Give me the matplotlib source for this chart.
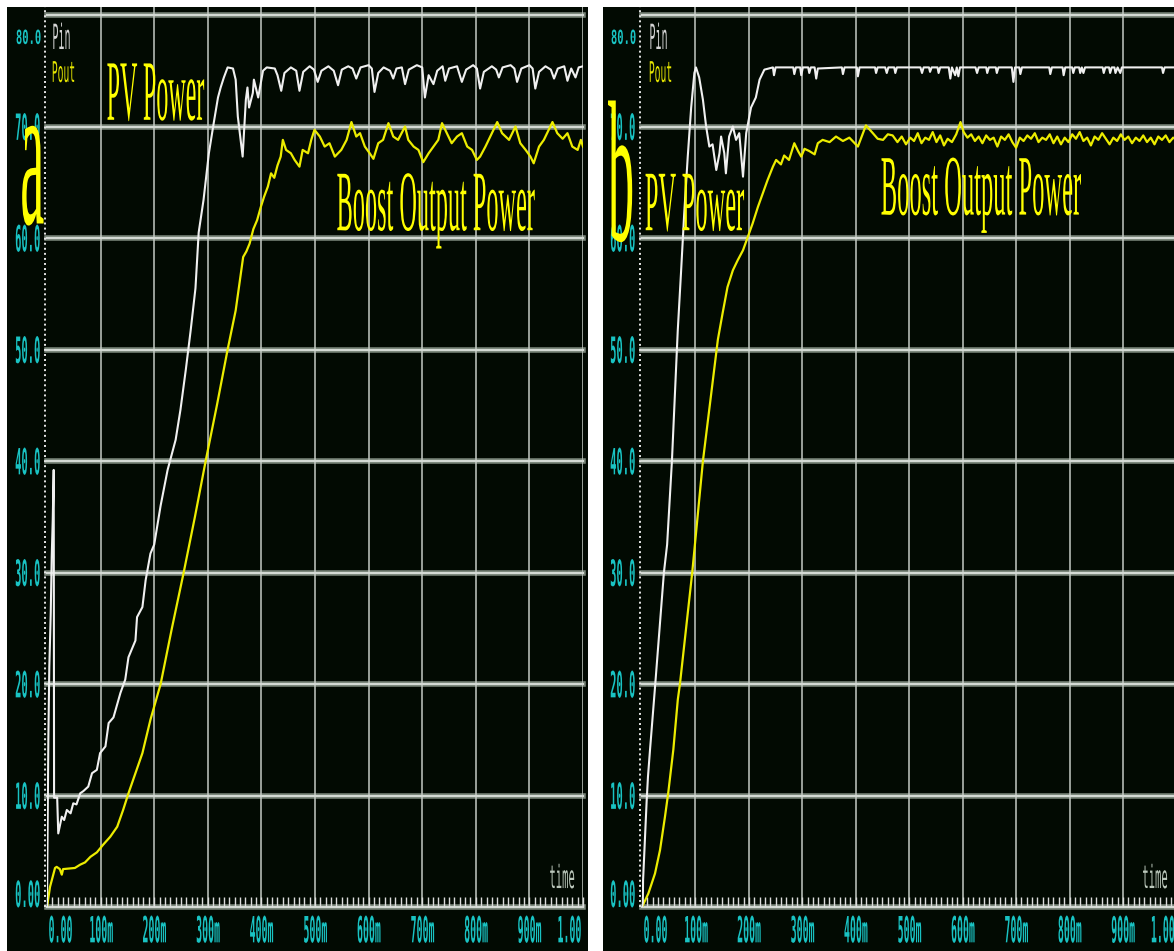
import matplotlib
matplotlib.use("Agg")
import matplotlib.pyplot as plt
from matplotlib.patheffects import AbstractPathEffect
from matplotlib.transforms import Affine2D, Bbox, blended_transform_factory
from matplotlib.patches import Rectangle
from matplotlib.ticker import MultipleLocator

# ---------------- data ----------------
x_ticks = [0.0, 0.1, 0.2, 0.3, 0.4, 0.5, 0.6, 0.7, 0.8, 0.9, 1.0]
x_labels = ["0.00", "100m", "200m", "300m", "400m", "500m", "600m", "700m", "800m", "900m", "1.00"]
y_ticks = [0, 10, 20, 30, 40, 50, 60, 70, 80]
y_labels = ["0.00", "10.0", "20.0", "30.0", "40.0", "50.0", "60.0", "70.0", "80.0"]

# Panel a : PV power (Pin, white)
pin_a_t = [0.0, 0.001, 0.0025, 0.0043, 0.007, 0.0088, 0.0107, 0.0125, 0.0132, 0.019, 0.021,
           0.0276, 0.032, 0.037, 0.044, 0.049, 0.055, 0.062, 0.068, 0.077, 0.084, 0.093, 0.099,
           0.109, 0.115, 0.124, 0.137, 0.146, 0.152, 0.165, 0.168, 0.178, 0.184, 0.193, 0.2,
           0.212, 0.225, 0.24, 0.249, 0.259, 0.268, 0.277, 0.283, 0.292, 0.302, 0.311, 0.319,
           0.324, 0.33, 0.337, 0.347, 0.352, 0.356, 0.365, 0.371, 0.374, 0.377, 0.384, 0.386,
           0.394, 0.403,
           0.41, 0.425, 0.43, 0.437, 0.443, 0.455, 0.465, 0.471, 0.478, 0.49, 0.498, 0.505,
           0.512, 0.525, 0.535, 0.543, 0.55, 0.562, 0.57, 0.577, 0.585, 0.6, 0.606, 0.611,
           0.618, 0.628, 0.64, 0.646, 0.652, 0.662, 0.668, 0.675, 0.69, 0.7, 0.705, 0.712,
           0.721, 0.728, 0.738, 0.743, 0.75, 0.765, 0.774, 0.782, 0.795, 0.802, 0.808, 0.815,
           0.83, 0.838, 0.843, 0.85, 0.865, 0.872, 0.877, 0.885, 0.9, 0.906, 0.911, 0.918,
           0.93, 0.94, 0.946, 0.953, 0.965, 0.971, 0.978, 0.986, 0.992, 1.0]
pin_a_v = [0.0, 6.0, 15.0, 21.5, 26.4, 31.4, 34.7, 39.2, 9.8, 9.8, 6.6,
           8.1, 7.8, 8.7, 8.4, 9.3, 9.2, 10.2, 10.4, 10.8, 12.0, 12.3, 13.8,
           14.4, 16.5, 17.0, 19.2, 20.4, 22.4, 23.9, 26.0, 26.9, 29.3, 31.7, 32.5,
           36.0, 39.2, 41.9, 44.6, 48.2, 51.7, 55.5, 60.5, 63.4, 67.6, 70.3, 72.6,
           73.5, 74.4, 75.3, 75.2, 74.2, 70.9, 67.3, 72.4, 73.5, 71.7, 73.0, 74.2,
           72.6, 75.0,
           75.3, 75.2, 74.6, 73.2, 74.8, 75.3, 75.0, 73.2, 74.9, 75.4, 75.1, 74.0,
           75.0, 75.4, 75.0, 73.7, 75.1, 75.4, 75.2, 74.3, 75.3, 75.5, 75.2, 73.1,
           74.8, 75.3, 75.0, 74.3, 75.2, 75.3, 73.8, 75.1, 75.5, 75.3, 72.6, 74.6,
           73.8, 75.0, 75.4, 74.1, 75.2, 75.4, 74.0, 75.1, 75.5, 75.2, 73.4, 74.9,
           75.4, 75.1, 74.4, 75.3, 75.5, 75.2, 74.0, 75.2, 75.5, 75.2, 73.4, 74.9,
           75.4, 75.1, 74.3, 75.2, 75.4, 74.1, 75.2, 74.4, 75.3, 75.4]

# Panel a : boost output power (Pout, yellow)
pout_a_t = [0.0, 0.0056, 0.015, 0.018, 0.024, 0.0276, 0.03, 0.052, 0.062, 0.071, 0.081, 0.093,
            0.105, 0.118, 0.131, 0.142, 0.152, 0.165, 0.178, 0.193, 0.212, 0.233, 0.255, 0.276,
            0.296, 0.317, 0.337, 0.352, 0.366, 0.372, 0.378, 0.385, 0.392, 0.399, 0.405, 0.412,
            0.418, 0.424, 0.43, 0.436, 0.44, 0.446, 0.455, 0.462, 0.471, 0.477, 0.487, 0.493,
            0.499, 0.509, 0.518, 0.527, 0.537, 0.549, 0.559, 0.568, 0.577, 0.584, 0.593, 0.602,
            0.609, 0.618, 0.627, 0.637, 0.646, 0.655, 0.668, 0.674, 0.684, 0.693, 0.702, 0.712,
            0.721, 0.73, 0.737, 0.746, 0.755, 0.765, 0.774, 0.784, 0.793, 0.802, 0.808, 0.818,
            0.827, 0.84, 0.849, 0.862, 0.874, 0.883, 0.893, 0.902, 0.908, 0.918, 0.927, 0.943,
            0.952, 0.962, 0.971, 0.98, 0.99, 0.996, 1.0]
pout_a_v = [0.0, 1.8, 3.5, 3.6, 3.4, 2.9, 3.4, 3.5, 3.8, 4.0, 4.5, 4.9,
            5.6, 6.3, 7.2, 8.7, 10.2, 12.0, 13.8, 16.8, 20.0, 25.0, 30.0, 35.0,
            40.0, 45.0, 50.0, 53.5, 58.3, 58.8, 59.5, 60.8, 61.6, 62.8, 63.7, 64.6,
            65.8, 65.4, 66.5, 67.3, 68.8, 67.9, 67.6, 67.0, 66.4, 67.9, 67.6, 68.8,
            69.7, 69.1, 68.2, 68.5, 67.3, 67.9, 68.8, 70.4, 69.1, 69.4, 68.2, 67.6,
            67.1, 68.5, 68.8, 70.3, 69.1, 68.8, 70.0, 68.8, 68.2, 67.9, 66.8, 67.6,
            68.2, 68.8, 70.3, 69.4, 68.5, 69.1, 69.4, 68.2, 67.9, 67.0, 67.3, 68.2,
            69.1, 70.4, 69.4, 68.8, 70.0, 68.5, 67.9, 67.3, 66.7, 68.2, 68.8, 70.4,
            69.4, 68.9, 69.4, 68.2, 67.9, 68.8, 68.2]

# Panel b : PV power (Pin, white)
pin_b_t = [0.0, 0.0015, 0.002, 0.0056, 0.0088, 0.0112, 0.015, 0.024, 0.034, 0.041, 0.047,
           0.056, 0.0669, 0.073, 0.079, 0.0856, 0.092, 0.098, 0.101, 0.107, 0.114, 0.12,
           0.126, 0.132, 0.139, 0.145, 0.148, 0.154, 0.157, 0.163, 0.17, 0.176, 0.182, 0.189,
           0.195, 0.204, 0.213, 0.22, 0.229,
           0.245, 0.247, 0.25, 0.283, 0.285, 0.288, 0.296, 0.298, 0.301, 0.311, 0.313, 0.316,
           0.323, 0.326, 0.329, 0.374, 0.376, 0.379, 0.402, 0.404, 0.407, 0.436, 0.438, 0.441,
           0.455, 0.458, 0.461, 0.472, 0.474, 0.477, 0.521, 0.524, 0.527, 0.537, 0.539, 0.542,
           0.553, 0.555, 0.558, 0.574, 0.577, 0.58, 0.586, 0.589, 0.592, 0.595, 0.624, 0.627,
           0.63, 0.644, 0.646, 0.649, 0.662, 0.664, 0.667, 0.692, 0.695, 0.698, 0.706, 0.708,
           0.711, 0.762, 0.764, 0.767, 0.787, 0.789, 0.792, 0.805, 0.807, 0.81, 0.818, 0.82,
           0.823, 0.826, 0.829, 0.862, 0.864, 0.867, 0.874, 0.876, 0.879, 0.884, 0.886, 0.89,
           0.895, 0.898, 0.973, 0.975, 0.978, 1.0]
pin_b_v = [0.0, 0.4, 2.4, 6.3, 9.6, 11.7, 14.1, 19.5, 25.7, 30.0, 32.5,
           40.0, 51.7, 56.9, 62.2, 67.3, 71.7, 74.8, 75.3, 74.4, 72.4, 70.0,
           68.2, 68.4, 66.1, 67.6, 69.1, 67.6, 65.8, 69.1, 70.0, 68.8, 69.4, 65.5,
           69.4, 71.7, 72.6, 74.2, 75.1,
           75.3, 74.6, 75.3, 75.3, 74.7, 75.3, 75.3, 74.6, 75.3, 75.3, 74.8, 75.3,
           75.3, 74.3, 75.2, 75.3, 74.7, 75.3, 75.3, 74.5, 75.3, 75.3, 74.8, 75.3,
           75.3, 74.8, 75.3, 75.3, 74.8, 75.3, 75.3, 74.8, 75.3, 75.3, 74.9, 75.3,
           75.3, 74.8, 75.3, 75.3, 74.3, 75.3, 74.6, 75.3, 74.5, 75.3, 75.3, 74.8,
           75.3, 75.3, 74.8, 75.3, 75.3, 74.8, 75.3, 75.3, 74.0, 75.3, 75.3, 74.7,
           75.3, 75.3, 74.7, 75.3, 75.3, 74.6, 75.3, 75.3, 74.8, 75.3, 75.3, 74.8,
           75.3, 74.8, 75.3, 75.3, 74.8, 75.3, 75.3, 74.8, 75.3, 75.3, 74.8, 75.3,
           74.8, 75.3, 75.3, 74.8, 75.3, 75.3]

# Panel b : boost output power (Pout, yellow)
pout_b_t = [0.0, 0.0118, 0.0243, 0.0337, 0.043, 0.049, 0.0586, 0.067, 0.071, 0.094, 0.114,
            0.142, 0.151, 0.16, 0.17, 0.179, 0.189, 0.198, 0.207, 0.217, 0.226, 0.235, 0.245,
            0.251, 0.26, 0.266, 0.275, 0.285, 0.292, 0.298, 0.304, 0.313, 0.323, 0.329, 0.338,
            0.351, 0.363, 0.376, 0.388, 0.404, 0.419, 0.432, 0.441, 0.451, 0.46, 0.469,
            0.478, 0.486, 0.494, 0.502, 0.509, 0.516, 0.523, 0.53, 0.537, 0.544, 0.551, 0.558,
            0.565, 0.572, 0.58, 0.588, 0.596, 0.602, 0.609, 0.616, 0.623, 0.63, 0.637, 0.644,
            0.651, 0.658, 0.665, 0.672, 0.679, 0.686, 0.693, 0.7, 0.707, 0.714, 0.721, 0.728,
            0.735, 0.742, 0.749, 0.756, 0.763, 0.77, 0.777, 0.784, 0.791, 0.798, 0.805, 0.812,
            0.819, 0.826, 0.833, 0.84, 0.847, 0.854, 0.861, 0.868, 0.875, 0.882, 0.889, 0.896,
            0.903, 0.91, 0.917, 0.924, 0.931, 0.938, 0.945, 0.952, 0.959, 0.966, 0.973, 0.98,
            0.987, 0.994, 1.0]
pout_b_v = [0.0, 1.2, 3.0, 5.1, 8.1, 10.2, 14.1, 18.6, 20.0, 30.0, 40.0,
            50.9, 53.3, 55.6, 57.1, 58.0, 58.9, 60.1, 61.3, 62.8, 64.0, 65.2, 66.4,
            67.0, 66.6, 67.4, 67.0, 68.5, 67.8, 67.3, 68.0, 67.8, 67.5, 68.5, 68.8,
            68.6, 69.1, 68.7, 69.0, 68.2, 70.1, 69.4, 68.9, 68.8, 69.3, 69.2,
            68.6, 69.1, 68.4, 69.0, 68.7, 69.4, 68.5, 69.0, 68.8, 69.5, 68.6, 69.2,
            68.3, 68.9, 68.6, 69.3, 70.4, 69.5, 69.0, 69.3, 68.7, 69.1, 68.5, 69.2,
            68.8, 69.0, 68.2, 69.1, 68.8, 69.3, 68.6, 68.1, 69.0, 68.7, 69.2, 68.9,
            69.4, 68.6, 69.0, 68.8, 69.3, 68.5, 69.1, 68.4, 69.0, 68.6, 69.3, 68.9,
            69.5, 68.7, 69.0, 68.3, 69.1, 68.8, 69.4, 68.9, 68.4, 69.0, 68.7, 69.3,
            68.8, 69.1, 68.5, 69.0, 68.7, 69.2, 68.6, 69.0, 68.4, 69.1, 68.8, 69.2,
            68.6, 69.0, 68.8]

# ---------------- helpers ----------------
class Squeeze(AbstractPathEffect):
    """Draw text condensed horizontally (the reference uses very narrow glyphs)."""
    def __init__(self, sx, sy=1.0, anchor="left"):
        super().__init__((0.0, 0.0))
        self.sx, self.sy, self.anchor = sx, sy, anchor

    def draw_path(self, renderer, gc, tpath, affine, rgbFace=None):
        ext = tpath.get_extents()
        if self.anchor == "left":
            cx = ext.x0
        elif self.anchor == "right":
            cx = ext.x1
        else:
            cx = 0.5 * (ext.x0 + ext.x1)
        tr = Affine2D().translate(-cx, 0).scale(self.sx, self.sy).translate(cx, 0) + affine
        renderer.draw_path(gc, tpath, tr, rgbFace)


def squeeze_text(t, sx, anchor="left"):
    """Condense a Text horizontally and report its condensed extent."""
    t.set_path_effects([Squeeze(sx, anchor=anchor)])
    orig = t.get_window_extent

    def extent(renderer=None, dpi=None):
        bb = orig(renderer, dpi)
        w = bb.width * sx
        if anchor == "left":
            x0 = bb.x0
        elif anchor == "right":
            x0 = bb.x1 - w
        else:
            x0 = 0.5 * (bb.x0 + bb.x1) - 0.5 * w
        return Bbox.from_extents(x0, bb.y0, x0 + w, bb.y1)

    t.get_window_extent = extent
    return t


W, H = 1174, 951
PX_PER_UNIT = 11.15
Y_TOP = 900 / PX_PER_UNIT

BG = "#020a02"
CYAN = "#19c3c3"
YELLOW_TXT = "#ffff00"
WHITE_LINE = "#f0f0f0"
YELLOW_LINE = "#ecec00"
MONO = "DejaVu Sans Mono"
SERIF = "Liberation Serif"
LBL_SIZE = 26


def px_rect(x0, y0, x1, y1):
    return [x0 / W, 1 - y1 / H, (x1 - x0) / W, (y1 - y0) / H]


fig = plt.figure(figsize=(W / 100, H / 100), dpi=100)
fig.patch.set_facecolor("white")

panels = [
    dict(bg=(7, 7, 588, 951), ax=(47, 7, 583, 907),
         pin=(pin_a_t, pin_a_v), pout=(pout_a_t, pout_a_v), letter="a",
         letter_pos=(-0.060, 61.3), letter_size=150,
         pv_pos=(0.108, 70.6), pv_sx=0.279,
         boost_pos=(0.537, 60.7), boost_sx=0.282,
         lbl_pos=0.0056, time_pos=0.961, vlines=x_ticks[1:]),
    dict(bg=(603, 7, 1174, 951), ax=(642, 7, 1176.4, 907),
         pin=(pin_b_t, pin_b_v), pout=(pout_b_t, pout_b_v), letter="b",
         letter_pos=(-0.0636, 59.8), letter_size=145,
         pv_pos=(0.002, 60.7), pv_sx=0.284,
         boost_pos=(0.4435, 62.1), boost_sx=0.285,
         lbl_pos=0.0094, time_pos=0.960, vlines=x_ticks[1:]),
]

for p in panels:
    x0, y0, x1, y1 = p["bg"]
    fig.add_artist(Rectangle((x0 / W, 1 - y1 / H), (x1 - x0) / W, (y1 - y0) / H,
                             transform=fig.transFigure, facecolor=BG,
                             edgecolor="none", zorder=-5))

    ax = fig.add_axes(px_rect(*p["ax"]))
    ax.patch.set_visible(False)
    ax.set_xlim(0, 1)
    ax.set_ylim(0, Y_TOP)
    for s in ax.spines.values():
        s.set_visible(False)

    # grid: thick grey horizontal bands, thin vertical lines
    for yv in y_ticks:
        ax.axhline(yv, color="#7a867a", lw=4.0, zorder=1, clip_on=False)
        ax.axhline(yv, color="#d4dad4", lw=1.5, zorder=1.1, clip_on=False)
    for xv in p["vlines"]:
        ax.axvline(xv, color="#c4cac4", lw=1.1, zorder=1)
    # dotted left axis
    ax.axvline(-0.004, color="#e6e6e6", lw=1.4, ls=(0, (1.0, 1.6)), zorder=2, clip_on=False)

    # traces
    ax.plot(*p["pin"], color=WHITE_LINE, lw=1.5, zorder=4)
    ax.plot(*p["pout"], color=YELLOW_LINE, lw=1.6, zorder=3)

    # x axis ticks and labels
    ax.set_xticks(x_ticks)
    ax.set_xticklabels(x_labels, fontsize=LBL_SIZE, color=CYAN, family=MONO, fontweight="bold")
    ax.xaxis.set_minor_locator(MultipleLocator(0.01))
    ax.tick_params(axis="x", which="both", direction="in", length=7, width=1.0,
                   color="#dcdcdc", pad=6, top=False)
    labs = ax.get_xticklabels()
    for i, lab in enumerate(labs):
        if i == 0:
            lab.set_ha("left")
            anchor = "left"
        elif i == len(labs) - 1:
            lab.set_ha("right")
            anchor = "right"
        else:
            anchor = "center"
        squeeze_text(lab, 0.275, anchor)
    ax.set_yticks([])

    # y labels
    ytr = blended_transform_factory(ax.transAxes, ax.transData)
    for yv, lab in zip(y_ticks, y_labels):
        if yv == 0:
            t = ax.text(-0.0095, yv, lab, transform=ytr, ha="right", va="baseline",
                        fontsize=LBL_SIZE, color=CYAN, family=MONO, fontweight="bold",
                        clip_on=False)
            squeeze_text(t, 0.29, "right")
        elif yv == y_ticks[-1]:
            t = ax.text(-0.0095, 77.9, lab, transform=ytr, ha="right", va="center",
                        fontsize=14, color=CYAN, family=MONO, fontweight="bold",
                        clip_on=False)
            squeeze_text(t, 0.54, "right")
        else:
            t = ax.text(-0.0095, yv - 0.3, lab, transform=ytr, ha="right", va="center",
                        fontsize=LBL_SIZE, color=CYAN, family=MONO, fontweight="bold",
                        clip_on=False)
            squeeze_text(t, 0.29, "right")

    # legend-like labels
    t = ax.text(p["lbl_pos"], 76.95, "Pin", ha="left", va="baseline", fontsize=25,
                color="#d6d6d6", family=MONO, zorder=6)
    squeeze_text(t, 0.29, "left")
    t = ax.text(p["lbl_pos"], 74.0, "Pout", ha="left", va="baseline", fontsize=20.5,
                color="#e6e600", family=MONO, zorder=6)
    squeeze_text(t, 0.34, "left")
    t = ax.text(p["time_pos"], 1.7, "time", ha="center", va="baseline", fontsize=23,
                color="#bcc8bc", family=MONO, zorder=6, clip_on=False)
    squeeze_text(t, 0.33, "center")

    # annotations
    t = ax.text(*p["letter_pos"], p["letter"], ha="left", va="baseline",
                fontsize=p["letter_size"], color=YELLOW_TXT, family=SERIF,
                zorder=8, clip_on=False)
    squeeze_text(t, 0.26, "left")
    t = ax.text(*p["pv_pos"], "PV Power", ha="left", va="baseline", fontsize=62,
                color=YELLOW_TXT, family=SERIF, zorder=7, clip_on=False)
    squeeze_text(t, p["pv_sx"], "left")
    t = ax.text(*p["boost_pos"], "Boost Output Power", ha="left", va="baseline", fontsize=62,
                color=YELLOW_TXT, family=SERIF, zorder=7, clip_on=False)
    squeeze_text(t, p["boost_sx"], "left")

fig.savefig("out.png", dpi=100, facecolor=fig.get_facecolor())
